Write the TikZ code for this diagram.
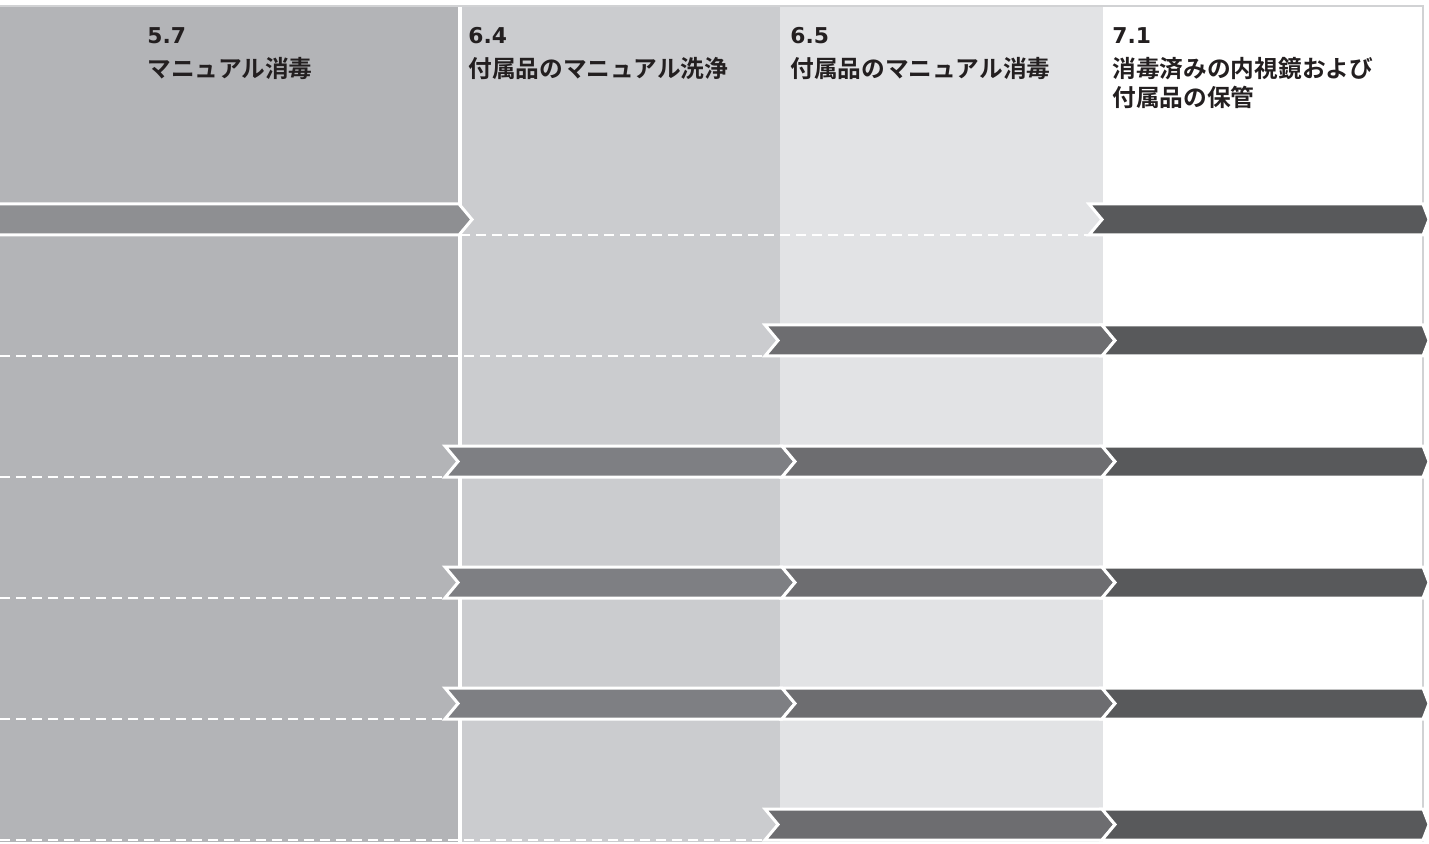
\documentclass[tikz,border=0pt]{standalone}
\usepackage{fontspec}
\usepackage{xcolor}
\usepackage{tikz}
\setmainfont{DejaVu Sans}
\newfontfamily\jpfont{Noto Sans CJK JP}[BoldFont={Noto Sans CJK JP Bold}]

\definecolor{colA}{HTML}{B3B4B7}
\definecolor{colB}{HTML}{CBCCCF}
\definecolor{colC}{HTML}{E2E3E5}
\definecolor{bandA}{HTML}{8E8F92}
\definecolor{bandB}{HTML}{7E7F83}
\definecolor{bandC}{HTML}{6D6D70}
\definecolor{bandD}{HTML}{58595B}
\definecolor{edgegray}{HTML}{D1D2D4}
\definecolor{txt}{HTML}{231F20}

% chevron band: start x, end x, top y, fill, tip depth
\newcommand{\chevband}[5]{%
  \draw[bandline, fill=#4] (#1,#3) -- (#2,#3) -- ++(#5,15.5) -- ({#2},{#3+31})
    -- ({#1},{#3+31}) -- ({#1+13},{#3+15.5}) -- cycle;}

\begin{document}
\begin{tikzpicture}[x=0.5pt, y=-0.5pt,
    bandline/.style={draw=white, line width=1.5pt, line join=miter},
    rowdash/.style={white, line width=1pt, dash pattern=on 5pt off 3pt},
    numlabel/.style={anchor=base west, inner sep=0pt, text=txt,
      font=\bfseries\fontsize{10.9}{13}\selectfont},
    titlelabel/.style={anchor=base west, inner sep=0pt, text=txt, align=left,
      font=\jpfont\bfseries\fontsize{11.85}{14.5}\selectfont}]
    \useasboundingbox (0,0) rectangle (1429,844);
    \clip (0,0) rectangle (1429,844);

    % Columns
    \fill[colA] (0,7) rectangle (458,842);
    \fill[colB] (462,7) rectangle (780,842);
    \fill[colC] (780,7) rectangle (1103,842);
    \draw[edgegray, line width=1pt] (0,6) -- (1423,6) -- (1423,842);

    % Dashed row lines
    \draw[rowdash] (460,235) -- (1089,235);
    \draw[rowdash] (0,356) -- (765,356);
    \foreach \y in {477,598,719}
        \draw[rowdash] (0,\y) -- (445,\y);
    \draw[rowdash] (0,840) -- (765,840);

    % Bands
    \chevband{-20}{459}{204}{bandA}{13}
    \chevband{1089}{1423}{204}{bandD}{6}
    \chevband{765}{1102}{325}{bandC}{13}
    \chevband{1102}{1423}{325}{bandD}{6}
    \foreach \y in {446,567,688} {
        \chevband{445}{782}{\y}{bandB}{13}
        \chevband{782}{1102}{\y}{bandC}{13}
        \chevband{1102}{1423}{\y}{bandD}{6}
    }
    \chevband{765}{1102}{809}{bandC}{13}
    \chevband{1102}{1423}{809}{bandD}{6}

    % Labels
    \node[numlabel] (num57) at (147,44) {5.7};
    \node[titlelabel] (title57) at (147,78) {マニュアル消毒};
    \node[numlabel] (num64) at (468,44) {6.4};
    \node[titlelabel] (title64) at (468,78) {付属品のマニュアル洗浄};
    \node[numlabel] (num65) at (790,44) {6.5};
    \node[titlelabel] (title65) at (790,78) {付属品のマニュアル消毒};
    \node[numlabel] (num71) at (1112,44) {7.1};
    \node[titlelabel] (title71) at (1112,107) {消毒済みの内視鏡および\\付属品の保管};
\end{tikzpicture}
\end{document}
